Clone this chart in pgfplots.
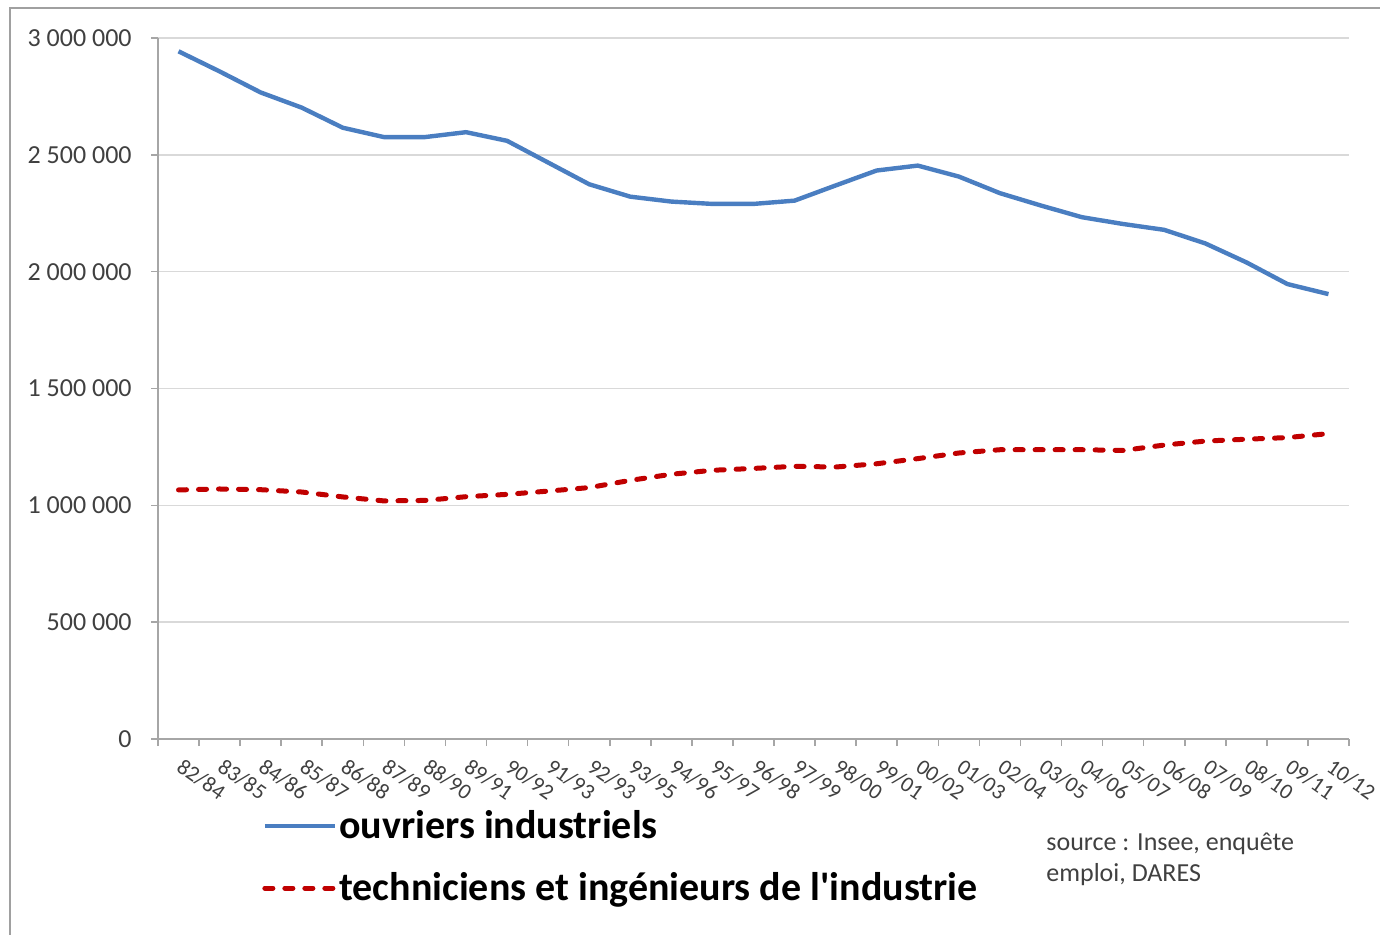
\documentclass[border=0pt]{standalone}
\usepackage{fontspec}
\setmainfont{Carlito}
\usepackage{pgfplots}
\pgfplotsset{compat=1.18}
\definecolor{serblue}{RGB}{74,126,193}
\definecolor{serred}{RGB}{192,0,0}
\definecolor{gridc}{RGB}{217,217,217}
\definecolor{axc}{RGB}{166,166,166}
\definecolor{labc}{RGB}{64,64,64}
\definecolor{framec}{RGB}{160,160,160}
\begin{document}
\begin{tikzpicture}
\useasboundingbox (0,0) rectangle (690pt,467pt);
\draw[framec, line width=1pt] (5pt,-2pt) -- (5pt,463pt) -- (692pt,463pt);
\begin{axis}[
  at={(79pt,97.5pt)}, anchor=south west,
  scale only axis, width=595.5pt, height=350.5pt,
  xmin=-0.5, xmax=28.5, ymin=0, ymax=3000000,
  axis x line*=bottom, axis y line*=left,
  axis line style={axc, line width=0.8pt, -},
  tick align=outside,
  major tick length=3.5pt,
  tick style={axc, line width=0.8pt},
  xtick={-0.5,0.5,...,28.5},
  xticklabels={82/84,83/85,84/86,85/87,86/88,87/89,88/90,89/91,90/92,91/93,92/93,93/95,94/96,95/97,96/98,97/99,98/00,99/01,00/02,01/03,02/04,03/05,04/06,05/07,06/08,07/09,08/10,09/11,10/12,{}},
  ytick={0,500000,1000000,1500000,2000000,2500000,3000000},
  yticklabels={0,500 000,1 000 000,1 500 000,2 000 000,2 500 000,3 000 000},
  scaled y ticks=false,
  ymajorgrids, grid style={gridc, line width=0.8pt},
  xticklabel style={font=\fontsize{11}{13}\selectfont, text=labc, anchor=north west, inner sep=0pt, xshift=13pt, yshift=-5.5pt, rotate=-35},
  yticklabel style={font=\fontsize{13}{15}\selectfont, text=labc, anchor=east, inner sep=0pt, xshift=-9.5pt},
  clip=false,
  legend image code/.code={\draw[#1] (0pt,0pt) -- (35pt,0pt);},
  legend style={at={(axis description cs:0.0873,0)}, anchor=north west, yshift=-33.5pt,
    draw=none, fill=none, inner sep=0pt, column sep=-1pt, row sep=11.5pt,
    font=\bfseries\fontsize{20}{24}\selectfont,
    cells={anchor=west}},
]
\addplot[serblue, line width=2.2pt, line join=round] coordinates {
(0,2943000) (1,2857000) (2,2767000) (3,2702000) (4,2616000) (5,2576000)
(6,2576000) (7,2597000) (8,2560000) (9,2467000) (10,2374000) (11,2321000)
(12,2300000) (13,2290000) (14,2290000) (15,2304000) (16,2369000) (17,2433000)
(18,2454000) (19,2407000) (20,2336000) (21,2283000) (22,2233000) (23,2204000)
(24,2179000) (25,2121000) (26,2040000) (27,1947000) (28,1904000)};
\addlegendentry{ouvriers industriels}
\addplot[serred, line width=2.5pt, line cap=round, dash pattern=on 4pt off 6pt] coordinates {
(0,1066000) (1,1070000) (2,1067000) (3,1057000) (4,1036000) (5,1019000)
(6,1021000) (7,1037000) (8,1047000) (9,1061000) (10,1076000) (11,1107000)
(12,1133000) (13,1150000) (14,1158000) (15,1167000) (16,1164000) (17,1178000)
(18,1200000) (19,1224000) (20,1238000) (21,1238000) (22,1238000) (23,1235000)
(24,1258000) (25,1275000) (26,1283000) (27,1290000) (28,1307000)};
\addlegendentry{techniciens et ingénieurs de l\textquotesingle industrie}
\end{axis}
\node[anchor=base west, inner sep=0pt, text=labc, font=\fontsize{13}{15}\selectfont] at (523pt,42pt) {source : Insee, enquête};
\node[anchor=base west, inner sep=0pt, text=labc, font=\fontsize{13}{15}\selectfont] at (523pt,26.5pt) {emploi, DARES};
\end{tikzpicture}
\end{document}
